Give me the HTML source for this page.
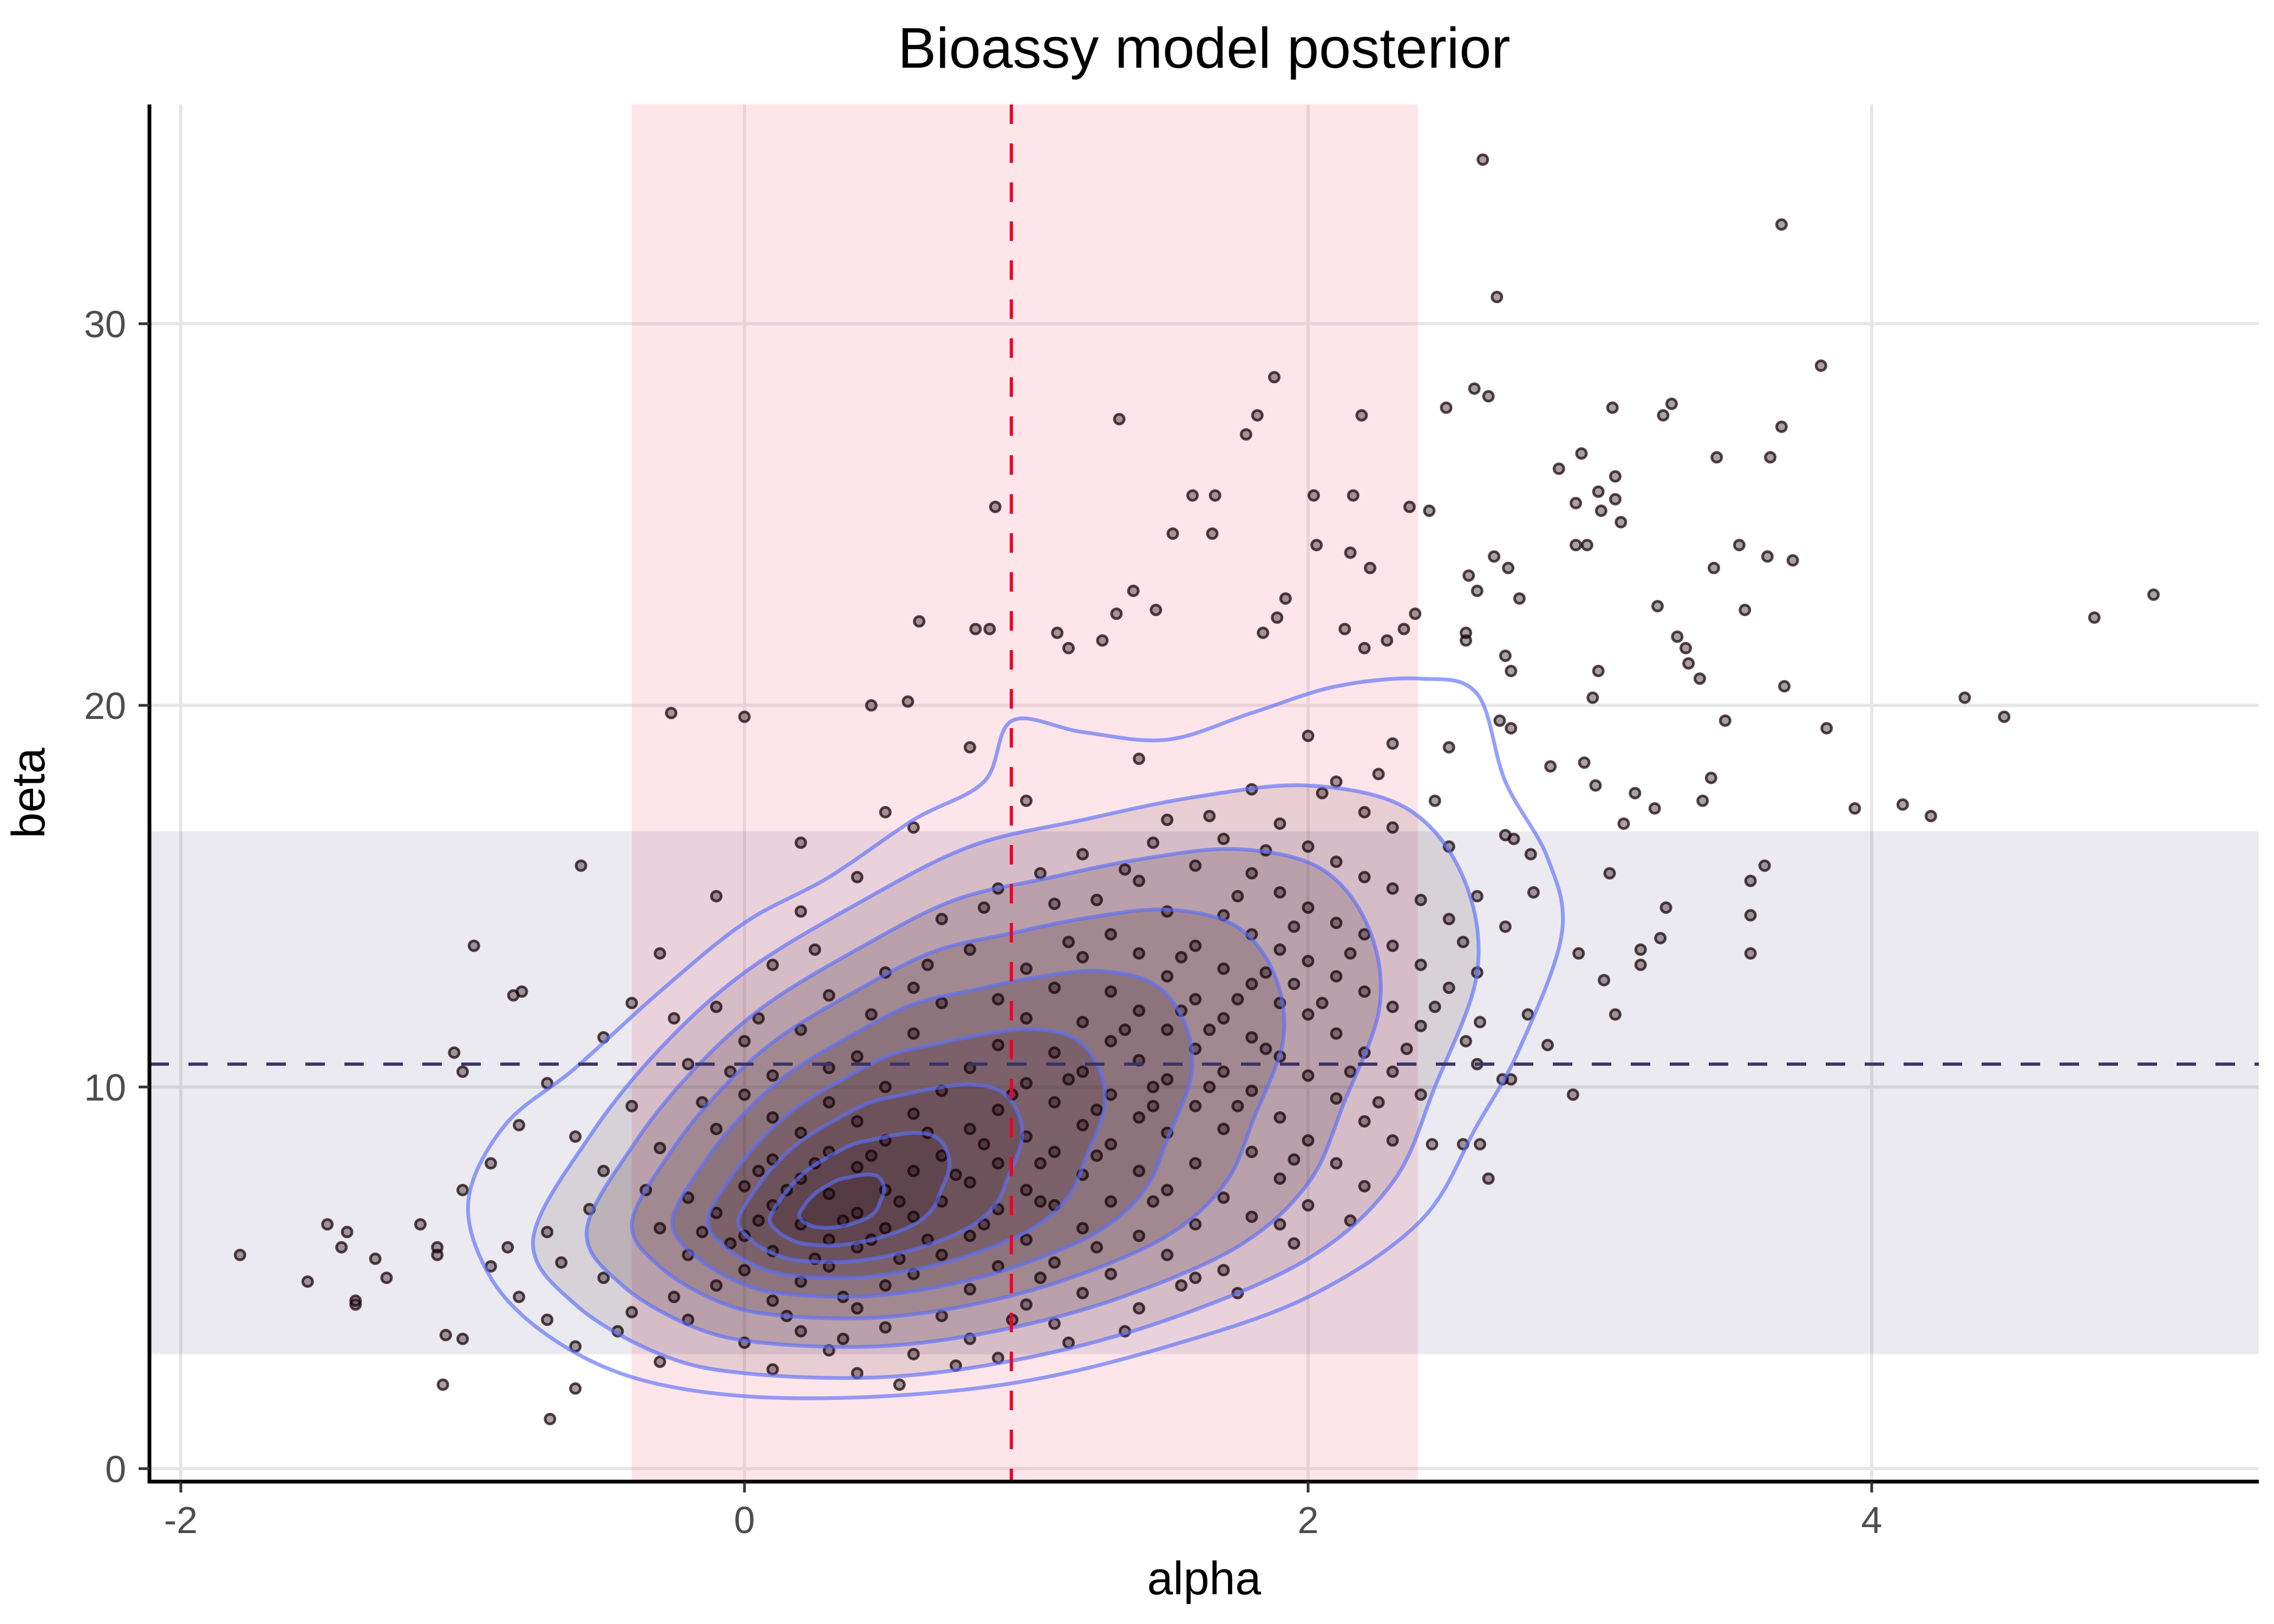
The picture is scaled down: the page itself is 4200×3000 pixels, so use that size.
<!DOCTYPE html>
<html><head><meta charset="utf-8"><title>Bioassy model posterior</title>
<style>html,body{margin:0;padding:0;background:#fff}svg{display:block}text{font-family:"Liberation Sans",Arial,sans-serif}</style>
</head><body>
<svg id="chart" width="4200" height="3000" viewBox="0 0 4200 3000" xmlns="http://www.w3.org/2000/svg">
<g id="layer"></g>
</svg>
<script>
const xTicks=[-2,0,2,4];
const yTicks=[0,10,20,30];
const alphaBand=[-0.4,2.39];
const betaBand=[3.0,16.7];
const alphaMean=0.947;
const betaMean=10.6;
const outerContour=[[-0.98,7.0],[-0.9,5.0],[-0.7,3.5],[-0.4,2.4],[0,1.9],[0.5,1.9],[1.0,2.3],[1.5,3.2],[2.0,4.5],[2.4,6.5],[2.6,9.0],[2.75,11],[2.9,14],[2.85,16],[2.7,18],[2.6,20.3],[2.4,20.7],[2.1,20.5],[1.8,19.8],[1.5,19.1],[1.2,19.3],[0.95,19.6],[0.85,18.0],[0.6,17.0],[0.3,15.5],[0.0,14.3],[-0.3,12.5],[-0.6,10.5],[-0.85,9.0]];
const secondContour=[[-0.75,6.0],[-0.6,4.3],[-0.3,3.0],[0,2.5],[0.5,2.4],[1.0,2.9],[1.5,3.9],[2.0,5.5],[2.3,7.5],[2.45,10],[2.6,13],[2.55,15.5],[2.35,17.3],[2.0,17.9],[1.6,17.6],[1.2,17.0],[0.8,16.3],[0.4,14.8],[0.0,13.0],[-0.3,11.0],[-0.55,8.7]];
const innerScales=[0.84,0.69,0.55,0.42,0.30,0.19,0.09];
const innerCenters=[[0.9,9.6],[0.8,9.2],[0.7,8.7],[0.6,8.2],[0.5,7.7],[0.42,7.3],[0.35,7.0]];
const points=[[2.62,34.3],[3.68,32.6],[2.67,30.7],[3.82,28.9],[1.88,28.6],[2.59,28.3],[2.64,28.1],[2.19,27.6],[1.82,27.6],[1.78,27.1],[1.33,27.5],[3.08,27.8],[3.29,27.9],[3.26,27.6],[3.68,27.3],[3.64,26.5],[3.45,26.5],[2.97,26.6],[2.89,26.2],[2.49,27.8],[3.09,26.0],[3.03,25.6],[3.09,25.4],[3.04,25.1],[3.11,24.8],[2.95,25.3],[2.95,24.2],[2.99,24.2],[1.59,25.5],[1.67,25.5],[1.52,24.5],[1.66,24.5],[2.02,25.5],[2.16,25.5],[2.36,25.2],[2.43,25.1],[0.89,25.2],[3.63,23.9],[3.72,23.8],[3.53,24.2],[5.0,22.9],[4.79,22.3],[4.33,20.2],[4.47,19.7],[4.11,17.4],[4.21,17.1],[3.94,17.3],[3.84,19.4],[3.69,20.5],[3.48,19.6],[3.35,21.1],[3.39,20.7],[3.31,21.8],[3.34,21.5],[3.24,22.6],[3.44,23.6],[3.03,20.9],[3.01,20.2],[3.55,22.5],[3.43,18.1],[3.40,17.5],[3.57,15.4],[3.62,15.8],[3.57,13.5],[3.57,14.5],[3.27,14.7],[3.25,13.9],[3.18,13.6],[3.18,13.2],[3.05,12.8],[2.96,13.5],[3.07,15.6],[3.09,11.9],[2.94,9.8],[2.61,8.5],[2.55,8.5],[2.64,7.6],[2.44,8.5],[2.72,10.2],[2.69,10.2],[2.85,11.1],[2.56,11.2],[2.61,11.7],[2.78,11.9],[3.16,17.7],[3.23,17.3],[3.12,16.9],[2.98,18.5],[3.02,17.9],[2.86,18.4],[2.68,19.6],[2.72,19.4],[2.73,16.5],[2.79,16.1],[2.57,23.4],[2.66,23.9],[2.71,23.6],[2.6,23.0],[2.75,22.8],[2.56,21.7],[2.56,21.9],[2.7,21.3],[2.72,20.9],[2.38,22.4],[2.34,22.0],[2.2,21.5],[2.28,21.7],[2.13,22.0],[2.03,24.2],[2.15,24.0],[2.22,23.6],[1.92,22.8],[1.89,22.3],[1.84,21.9],[1.38,23.0],[1.46,22.5],[1.11,21.9],[1.15,21.5],[1.32,22.4],[1.27,21.7],[0.62,22.2],[0.82,22.0],[0.87,22.0],[-0.26,19.8],[0,19.7],[0.45,20.0],[0.58,20.1],[-0.58,15.8],[-0.96,13.7],[-1.03,10.9],[-1.0,10.4],[-0.79,12.5],[-0.82,12.4],[-1.79,5.6],[-1.55,4.9],[-1.48,6.4],[-1.41,6.2],[-1.43,5.8],[-1.38,4.3],[-1.38,4.4],[-1.31,5.5],[-1.27,5.0],[-1.07,2.2],[-0.69,1.3],[-1.06,3.5],[-1.0,3.4],[-1.09,5.8],[-1.09,5.6],[-1.15,6.4],[-0.84,5.8],
[-0.8,4.5],[-0.7,6.2],[-0.6,3.2],[-0.5,5.0],[-0.5,7.8],[-0.4,4.1],[-0.4,9.5],[-0.3,2.8],[-0.3,6.3],[-0.3,8.4],[-0.2,3.9],[-0.2,5.6],[-0.2,7.1],[-0.2,10.6],[-0.1,4.8],[-0.1,6.7],[-0.1,8.9],[-0.1,12.1],[0,3.3],[0,5.2],[0,6.1],[0,7.4],[0,9.8],[0,11.2],[0.1,2.6],[0.1,4.4],[0.1,5.7],[0.1,6.9],[0.1,8.1],[0.1,10.3],[0.1,13.2],[0.2,3.6],[0.2,4.9],[0.2,6.4],[0.2,7.6],[0.2,8.8],[0.2,11.5],[0.2,14.6],[0.3,3.1],[0.3,5.3],[0.3,6.0],[0.3,7.2],[0.3,8.3],[0.3,9.6],[0.3,12.4],[0.4,2.5],[0.4,4.2],[0.4,5.8],[0.4,6.7],[0.4,7.9],[0.4,9.1],[0.4,10.8],[0.4,15.5],[0.5,3.7],[0.5,4.8],[0.5,6.3],[0.5,7.3],[0.5,8.6],[0.5,10.0],[0.5,13.0],[0.6,3.0],[0.6,5.1],[0.6,6.6],[0.6,7.8],[0.6,9.3],[0.6,11.4],[0.6,16.8],[0.7,4.0],[0.7,5.6],[0.7,7.0],[0.7,8.2],[0.7,9.9],[0.7,12.2],[0.7,14.4],[0.8,3.4],[0.8,4.7],[0.8,6.1],[0.8,7.5],[0.8,8.9],[0.8,10.5],[0.8,13.6],[0.9,2.9],[0.9,5.3],[0.9,6.8],[0.9,8.0],[0.9,9.4],[0.9,11.1],[0.9,15.2],[1.0,4.3],[1.0,6.0],[1.0,7.3],[1.0,8.7],[1.0,10.1],[1.0,11.8],[1.0,13.1],[1.0,17.5],[1.1,3.8],[1.1,5.4],[1.1,6.9],[1.1,8.3],[1.1,9.6],[1.1,10.9],[1.1,12.6],[1.1,14.8],[1.2,4.6],[1.2,6.3],[1.2,7.7],[1.2,9.0],[1.2,10.4],[1.2,11.7],[1.2,13.4],[1.2,16.1],[1.3,5.1],[1.3,7.0],[1.3,8.5],[1.3,9.8],[1.3,11.2],[1.3,12.5],[1.3,14.0],[1.4,4.2],[1.4,6.1],[1.4,7.8],[1.4,9.2],[1.4,10.7],[1.4,12.0],[1.4,13.5],[1.4,15.4],[1.4,18.6],[1.5,5.6],[1.5,7.3],[1.5,8.8],[1.5,10.2],[1.5,11.5],[1.5,12.9],[1.5,14.6],[1.5,17.0],[1.6,6.4],[1.6,8.0],[1.6,9.5],[1.6,11.0],[1.6,12.3],[1.6,13.7],[1.6,15.8],[1.7,5.2],[1.7,7.1],[1.7,8.9],[1.7,10.4],[1.7,11.8],[1.7,13.1],[1.7,14.5],[1.7,16.5],[1.8,6.6],[1.8,8.3],[1.8,9.9],[1.8,11.3],[1.8,12.7],[1.8,14.0],[1.8,15.6],[1.8,17.8],[1.9,7.6],[1.9,9.2],[1.9,10.8],[1.9,12.2],[1.9,13.6],[1.9,15.1],[1.9,16.9],[2.0,6.9],[2.0,8.6],[2.0,10.3],[2.0,11.9],[2.0,13.3],[2.0,14.7],[2.0,16.3],[2.0,19.2],[2.1,8.0],[2.1,9.7],[2.1,11.4],[2.1,12.9],[2.1,14.3],[2.1,15.9],[2.1,18.0],[2.2,7.4],[2.2,9.1],[2.2,10.9],[2.2,12.5],[2.2,14.0],[2.2,15.5],[2.2,17.2],[2.3,8.6],[2.3,10.4],[2.3,12.1],[2.3,13.7],[2.3,15.2],[2.3,16.8],[2.3,19.0],[2.4,9.8],[2.4,11.6],[2.4,13.2],[2.4,14.9],[2.5,12.6],[2.5,14.4],[2.5,16.3],[2.5,18.9],[2.6,13.0],[2.6,15.0],[2.7,14.2],[2.7,16.6],[2.8,15.1],[2.6,10.6],
[-0.9,8.0],[-0.9,5.3],[-1.0,7.3],[-0.8,9.0],[-0.7,10.1],[-0.6,8.7],[-0.7,3.9],[-0.6,2.1],[-0.5,11.3],[-0.4,12.2],[-0.3,13.5],[-0.1,15.0],[0.2,16.4],[0.5,17.2],[0.8,18.9],
[0.05,6.5],[0.15,7.3],[0.25,5.5],[0.35,6.5],[0.45,8.2],[0.55,7.0],[0.65,6.0],[0.75,7.7],[0.85,8.5],[0.95,9.8],[1.05,8.0],[1.15,10.2],[1.25,9.4],[1.35,11.5],[1.45,10.0],[1.55,12.0],[1.65,11.5],[1.75,12.3],[1.85,13.0],[1.95,12.7],[0.15,4.0],[0.35,4.5],[0.55,5.5],[0.25,8.0],[0.45,6.0],[0.65,8.8],[-0.05,5.9],[-0.15,6.2],[0.05,7.8],[0.85,6.4],[1.05,7.0],[1.25,8.2],[1.45,9.5],[1.65,10.0],[1.85,11.0],[2.05,12.2],[2.15,13.5],[1.95,14.2],[1.75,15.0],
[-0.65,5.4],[-0.55,6.8],[-0.45,3.6],[-0.35,7.3],[-0.25,4.5],[-0.15,9.6],[0.05,11.8],[0.25,13.6],[0.45,11.9],[0.65,13.2],[0.85,14.7],[1.05,15.6],[1.25,14.9],[1.45,16.4],[1.65,17.1],[1.85,16.2],[2.05,17.7],[2.25,18.2],[2.45,17.5],[2.35,11.0],[2.15,6.5],[1.95,5.9],[1.75,4.6],[1.55,4.8],[1.35,3.6],[1.15,3.3],[0.95,3.9],[0.75,2.7],[0.55,2.2],[0.35,3.4],[1.6,5.0],[1.9,6.4],[2.25,9.6],[2.45,12.1],[2.55,13.8],[0.3,10.5],[0.1,9.2],[-0.05,10.4],[-0.25,11.8],[0.6,12.6],[0.9,12.3],[1.15,13.8],[1.35,15.7],[1.55,13.4],[1.75,9.5],[1.95,8.1],[2.15,10.4],[1.45,7.0],[1.25,5.8],[1.05,5.0]];

const NS="http://www.w3.org/2000/svg";
const L=276,R=4172,T=193,B=2737;
const xPx=a=>1375+520.5*a;
const yPx=b=>2713-70.5*b;
const layer=document.getElementById('layer');
function mk(tag,attrs,parent){const e=document.createElementNS(NS,tag);for(const k in attrs)e.setAttribute(k,attrs[k]);(parent||layer).appendChild(e);return e;}
function smoothPath(pts){const n=pts.length;let d='M'+pts[0][0].toFixed(1)+','+pts[0][1].toFixed(1);
for(let i=0;i<n;i++){const p0=pts[(i-1+n)%n],p1=pts[i],p2=pts[(i+1)%n],p3=pts[(i+2)%n];
const c1=[p1[0]+(p2[0]-p0[0])/6,p1[1]+(p2[1]-p0[1])/6],c2=[p2[0]-(p3[0]-p1[0])/6,p2[1]-(p3[1]-p1[1])/6];
d+=` C${c1[0].toFixed(1)},${c1[1].toFixed(1)} ${c2[0].toFixed(1)},${c2[1].toFixed(1)} ${p2[0].toFixed(1)},${p2[1].toFixed(1)}`;}
return d+' Z';}
const basePx=secondContour.map(p=>[xPx(p[0]),yPx(p[1])]);
const baseCx=basePx.reduce((s,p)=>s+p[0],0)/basePx.length, baseCy=basePx.reduce((s,p)=>s+p[1],0)/basePx.length;
function innerPts(i){const k=innerScales[i],c=innerCenters[i];const cx=xPx(c[0]),cy=yPx(c[1]);
return basePx.map(p=>[cx+(p[0]-baseCx)*k,cy+(p[1]-baseCy)*k]);}

const gGrid=mk('g',{});


xTicks.forEach(t=>{const l=mk('line',{x1:xPx(t),x2:xPx(t),y1:T,y2:B,stroke:'#e6e6e6','stroke-width':6},gGrid);

});
yTicks.forEach(t=>{const l=mk('line',{x1:L,x2:R,y1:yPx(t),y2:yPx(t),stroke:'#e6e6e6','stroke-width':6},gGrid);

});

const band1=mk('rect',{x:xPx(alphaBand[0]),y:T,width:xPx(alphaBand[1])-xPx(alphaBand[0]),height:B-T,fill:'rgba(250,150,170,0.25)'});


const band2=mk('rect',{x:L,y:yPx(betaBand[1]),width:R-L,height:yPx(betaBand[0])-yPx(betaBand[1]),fill:'rgba(60,50,110,0.1)'});



const gDen=mk('g',{});


const sp=mk('path',{d:smoothPath(basePx),fill:'rgba(40,0,10,0.10)'},gDen);


innerScales.forEach((k,i)=>{const e=mk('path',{d:smoothPath(innerPts(i)),fill:'rgba(30,0,8,0.15)'},gDen);

});

const gPts=mk('g',{});


points.forEach(p=>{const c=mk('circle',{cx:xPx(p[0]),cy:yPx(p[1]),r:9,fill:'rgba(40,20,25,0.4)',stroke:'rgba(20,0,5,0.72)','stroke-width':5},gPts);

});

const gCon=mk('g',{fill:'none',stroke:'rgba(90,110,250,0.65)','stroke-width':7});


const o=mk('path',{d:smoothPath(outerContour.map(p=>[xPx(p[0]),yPx(p[1])]))},gCon);


const s2=mk('path',{d:smoothPath(basePx)},gCon);


innerScales.forEach((k,i)=>{const e=mk('path',{d:smoothPath(innerPts(i))},gCon);

});

const vl=mk('line',{x1:xPx(alphaMean),x2:xPx(alphaMean),y1:T,y2:B,stroke:'#f0002a','stroke-width':6,'stroke-dasharray':'36 36'});


const hl=mk('line',{x1:L,x2:R,y1:yPx(betaMean),y2:yPx(betaMean),stroke:'#3a3466','stroke-width':6,'stroke-dasharray':'36 36'});



const ax=mk('path',{d:`M${L},${T} L${L},${B} L${R},${B}`,fill:'none',stroke:'#000','stroke-width':7});


xTicks.forEach(t=>{const tk=mk('line',{x1:xPx(t),x2:xPx(t),y1:B,y2:B+20,stroke:'#333','stroke-width':5});


const tx=mk('text',{x:xPx(t),y:2832,'text-anchor':'middle','font-size':70,fill:'#4d4d4d'});tx.textContent=t;

});
yTicks.forEach(t=>{const tk=mk('line',{x1:L-20,x2:L,y1:yPx(t),y2:yPx(t),stroke:'#333','stroke-width':5});


const tx=mk('text',{x:233,y:yPx(t)+25,'text-anchor':'end','font-size':70,fill:'#4d4d4d'});tx.textContent=t;

});

const title=mk('text',{x:2224,y:125,'text-anchor':'middle','font-size':106,fill:'#000'});title.textContent='Bioassy model posterior';


const xt=mk('text',{x:2224,y:2945,'text-anchor':'middle','font-size':86,fill:'#000'});xt.textContent='alpha';


const yt=mk('text',{x:0,y:0,'text-anchor':'middle','font-size':86,fill:'#000',transform:'translate(82,1465) rotate(-90)'});yt.textContent='beta';


</script>
</body></html>
